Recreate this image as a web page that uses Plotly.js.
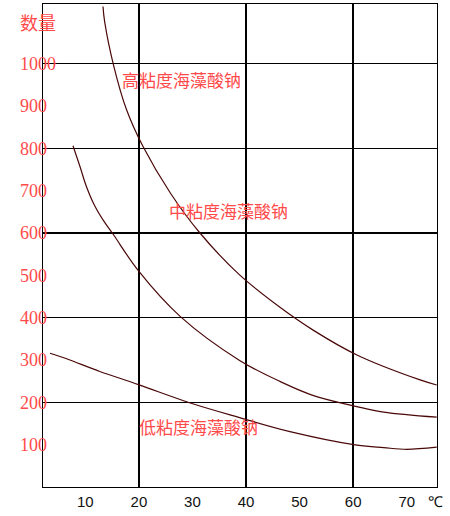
<!DOCTYPE html>
<html>
<head>
<meta charset="utf-8">
<script src="https://cdn.plot.ly/plotly-3.0.1.min.js"></script>
<style>
  html, body { margin: 0; padding: 0; background: #fff; }
  #chart { width: 450px; height: 516px; }
</style>
</head>
<body>
<div id="chart"></div>
<script>
// temperature (℃) vs viscosity
const highX = [13.3, 13.6, 15.3, 17.7, 20.7, 25.9, 31.4, 38.8, 46.4, 52.6, 60.7, 72.5, 75.6];
const highY = [1135, 1100, 995, 891, 806, 694, 600, 501, 424, 370, 312, 253, 241];

const midX = [7.7, 9.0, 10.2, 11.8, 13.3, 15.2, 19.9, 27.7, 38.8, 46.4, 52.6, 60.7, 65.7, 75.6];
const midY = [806, 757, 710, 663, 631, 597, 511, 403, 299, 249, 216, 190, 177, 165];

const lowX = [3.4, 6.5, 12.7, 19.9, 30.2, 38.8, 48.2, 60.7, 65.7, 70.0, 75.6];
const lowY = [316, 303, 273, 242, 196, 164, 131, 99, 93, 89, 94];

const seriesNames = ['高粘度海藻酸钠', '中粘度海藻酸钠', '低粘度海藻酸钠'];

const xTickVals = [10, 20, 30, 40, 50, 60, 70, 75.4];
const xTickText = ['10', '20', '30', '40', '50', '60', '70', '℃'];
const xGridVals = [20, 40, 60];

const yTickVals = [100, 200, 300, 400, 500, 600, 700, 800, 900, 1000, 1095];
const yTickText = ['100', '200', '300', '400', '500', '600', '700', '800', '900', '1000', '数量'];
const yGridVals = [200, 400, 600, 800, 1000];

const X_RANGE = [2.1, 75.65];
const Y_RANGE = [0, 1141];
const CURVE = '#4a0808';
const RED = '#ff4a4a';

const traces = [[highX, highY], [midX, midY], [lowX, lowY]].map(([x, y], i) => ({
  type: 'scatter', mode: 'lines',
  name: seriesNames[i],
  x, y,
  line: { color: CURVE, width: 1.2, shape: 'spline', smoothing: 1 },
  hoverinfo: 'skip',
}));
// empty trace so the label-only axes get drawn
traces.push({ type: 'scatter', mode: 'lines', x: [], y: [], xaxis: 'x2', yaxis: 'y2', hoverinfo: 'skip' });

const frameAxis = {
  showline: true, linecolor: '#000', linewidth: 1.4, mirror: true,
  showgrid: true, gridcolor: '#000', gridwidth: 1.4,
  zeroline: false, ticks: '', showticklabels: false, fixedrange: true,
};

const layout = {
  width: 450, height: 516,
  margin: { l: 0, r: 13, t: 4, b: 29 },
  paper_bgcolor: '#fff', plot_bgcolor: '#fff',
  showlegend: false,
  xaxis: { ...frameAxis, domain: [43 / 437, 1], range: X_RANGE, tickmode: 'array', tickvals: xGridVals },
  yaxis: { ...frameAxis, range: Y_RANGE, tickmode: 'array', tickvals: yGridVals },
  // labels only
  xaxis2: {
    overlaying: 'x', anchor: 'y', side: 'bottom', range: X_RANGE,
    tickmode: 'array', tickvals: xTickVals, ticktext: xTickText,
    showgrid: false, zeroline: false, showline: false, ticks: '',
    ticklabelstandoff: 4,
    tickfont: { family: '"Liberation Sans", Arial, sans-serif', size: 15, color: '#111' },
  },
  yaxis2: {
    overlaying: 'y', anchor: 'free', position: 19 / 437, side: 'right', range: Y_RANGE,
    tickmode: 'array', tickvals: yTickVals, ticktext: yTickText,
    showgrid: false, zeroline: false, showline: false, ticks: '',
    tickfont: { family: '"Liberation Serif", "Noto Sans CJK SC", serif', size: 18, color: RED },
  },
  annotations: [
    { x: 27.9, y: 962, text: seriesNames[0] },
    { x: 36.8, y: 654, text: seriesNames[1] },
    { x: 31.1, y: 142, text: seriesNames[2] },
  ].map(a => ({
    ...a, xref: 'x', yref: 'y', showarrow: false,
    font: { family: '"Noto Sans CJK SC", sans-serif', size: 17, color: RED },
  })),
};

Plotly.newPlot('chart', traces, layout, { displayModeBar: false, staticPlot: true });
</script>
</body>
</html>
